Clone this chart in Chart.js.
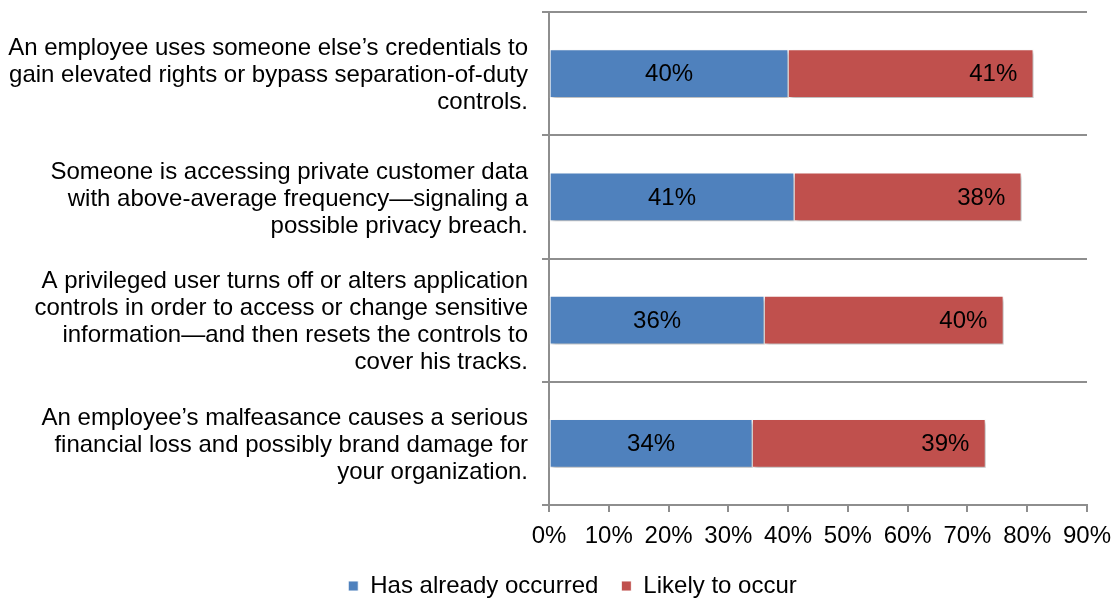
<!DOCTYPE html>
<html>
<head>
<meta charset="utf-8">
<script src="https://cdn.jsdelivr.net/npm/chart.js@4/dist/chart.umd.min.js"></script>
<style>
  html, body { margin: 0; padding: 0; background: #fff; }
  #wrap { width: 1115px; height: 600px; }
</style>
</head>
<body>
<div id="wrap"><canvas id="c" width="1115" height="600"></canvas></div>
<script>
// Insider-threat scenarios, one per row (lines as they wrap on the axis)
const scenarios = [
  ["An employee uses someone else\u2019s credentials to", "gain elevated rights or bypass separation-of-duty", "controls."],
  ["Someone is accessing private customer data", "with above-average frequency\u2014signaling a", "possible privacy breach."],
  ["A privileged user turns off or alters application", "controls in order to access or change sensitive", "information\u2014and then resets the controls to", "cover his tracks."],
  ["An employee\u2019s malfeasance causes a serious", "financial loss and possibly brand damage for", "your organization."]
];
const seriesNames = ["Has already occurred", "Likely to occur"];
const alreadyOccurred = [40, 41, 36, 34];
const likelyToOccur = [41, 38, 40, 39];
const tickValues = [0, 10, 20, 30, 40, 50, 60, 70, 80, 90];

const FONT = "'Liberation Sans', Arial, sans-serif";
const FONT_SIZE = 24;
const AXIS_GREY = '#8e8e8e';

// Soft drop shadow under the bars
const barShadow = {
  id: 'barShadow',
  beforeDatasetsDraw(chart) {
    const ctx = chart.ctx;
    ctx.save();
    ctx.shadowColor = 'rgba(0,0,0,0.28)';
    ctx.shadowBlur = 4;
    ctx.shadowOffsetX = 2;
    ctx.shadowOffsetY = 3;
  },
  afterDatasetsDraw(chart) {
    chart.ctx.restore();
  }
};

// Percentage labels inside each bar segment
const segmentLabels = {
  id: 'segmentLabels',
  afterDatasetsDraw(chart) {
    const ctx = chart.ctx;
    ctx.save();
    ctx.font = FONT_SIZE + 'px ' + FONT;
    ctx.fillStyle = '#000';
    ctx.textAlign = 'center';
    ctx.textBaseline = 'middle';
    chart.data.datasets.forEach((ds, di) => {
      const meta = chart.getDatasetMeta(di);
      meta.data.forEach((bar, i) => {
        const v = ds.data[i];
        const x = di === 0 ? (bar.base + bar.x) / 2 : bar.x - 40;
        ctx.fillText(v + '%', x, bar.y + 1);
      });
    });
    ctx.restore();
  }
};

// Nudge the legend row a little to the right of the canvas centre
const legendShift = {
  id: 'legendShift',
  afterLayout(chart) {
    if (chart.legend) {
      chart.legend.left += 15;
      chart.legend.right += 15;
    }
  }
};

new Chart(document.getElementById('c'), {
  type: 'bar',
  data: {
    labels: scenarios,
    datasets: [
      {
        label: seriesNames[0],
        data: alreadyOccurred,
        backgroundColor: '#4f81bd',
        borderColor: 'rgba(255,255,255,0.9)',
        borderWidth: 1,
        borderSkipped: false,
        barThickness: 48
      },
      {
        label: seriesNames[1],
        data: likelyToOccur,
        backgroundColor: '#c0504d',
        borderColor: 'rgba(255,255,255,0.9)',
        borderWidth: 1,
        borderSkipped: false,
        barThickness: 48
      }
    ]
  },
  options: {
    indexAxis: 'y',
    responsive: false,
    animation: false,
    layout: { padding: { top: 12, right: 0, left: 0, bottom: -8 } },
    scales: {
      x: {
        stacked: true,
        min: 0,
        max: 90,
        afterBuildTicks(scale) {
          scale.ticks = tickValues.map(v => ({ value: v }));
        },
        afterFit(scale) {
          scale.height = 46;
          scale.paddingLeft = 0;
          scale.paddingRight = 28;
        },
        border: { display: true, color: AXIS_GREY, width: 2 },
        grid: {
          drawOnChartArea: false,
          drawTicks: true,
          tickLength: 7,
          color: AXIS_GREY,
          lineWidth: 2
        },
        ticks: {
          font: { family: FONT, size: FONT_SIZE },
          color: '#000',
          padding: 10,
          maxRotation: 0,
          callback: v => v + '%'
        }
      },
      y: {
        stacked: true,
        afterFit(scale) {
          scale.width = 549;
          scale.paddingTop = 0;
          scale.paddingBottom = 0;
        },
        border: { display: true, color: AXIS_GREY, width: 2 },
        grid: {
          offset: true,
          drawOnChartArea: true,
          drawTicks: true,
          tickLength: 7,
          color: AXIS_GREY,
          lineWidth: 2
        },
        ticks: {
          font: { family: FONT, size: FONT_SIZE, lineHeight: 1.125 },
          color: '#000',
          padding: 14,
          labelOffset: 2
        }
      }
    },
    plugins: {
      legend: {
        position: 'bottom',
        labels: {
          font: { family: FONT, size: FONT_SIZE },
          color: '#000',
          boxWidth: 10,
          boxHeight: 10,
          padding: 23
        }
      },
      tooltip: { enabled: false }
    }
  },
  plugins: [barShadow, segmentLabels, legendShift]
});
</script>
</body>
</html>
